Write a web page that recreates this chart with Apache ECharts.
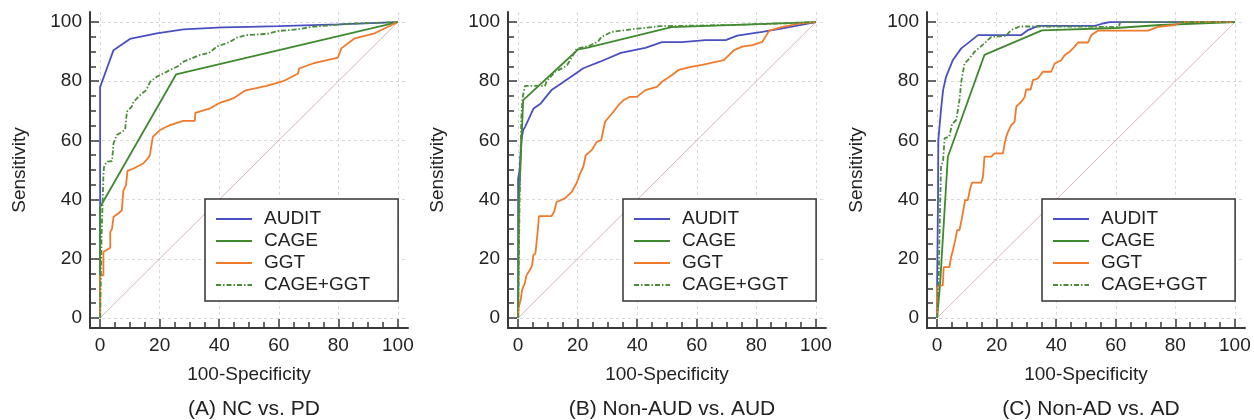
<!DOCTYPE html>
<html>
<head>
<meta charset="utf-8">
<script src="https://cdn.jsdelivr.net/npm/echarts@6/dist/echarts.min.js"></script>
<style>
  html, body { margin: 0; padding: 0; background: #fff; }
  #main { width: 1254px; height: 420px; }
</style>
</head>
<body>
<div id="main"></div>
<script>
// tick values shared by the three panels
var majorTicks = [0, 20, 40, 60, 80, 100];
var minorTicks = [0, 5, 10, 15, 20, 25, 30, 35, 40, 45, 50, 55, 60, 65, 70, 75, 80, 85, 90, 95, 100];
var diagonal = [[0, 0], [100, 100]];

var seriesNames = ['AUDIT', 'CAGE', 'GGT', 'CAGE+GGT'];
var captions = ['(A) NC vs. PD', '(B) Non-AUD vs. AUD', '(C) Non-AD vs. AD'];

// (A) NC vs. PD  -- [100-specificity, sensitivity]
var A_AUDIT = [[0, 0], [0, 78], [0.6, 78.4], [2.5, 85], [4.5, 90.5], [10, 94.3], [19, 96.2], [28, 97.5], [41, 98.2], [50, 98.4], [60, 98.6], [80, 99.2], [100, 100]];
var A_CAGE = [[0, 0], [0, 37.5], [25.5, 82.3], [100, 100]];
var A_GGT = [[0, 0], [0, 14.4], [1.1, 14.4], [1.1, 22.3], [3.4, 23.7], [3.4, 29], [4, 30.2], [4.5, 34.2], [6.1, 35.3], [7.3, 36.4], [7.8, 43], [8.7, 44.9], [9.2, 49.7], [11.2, 50.5], [14.5, 52.2], [16.5, 54.5], [16.8, 55.6], [17.7, 61.2], [20.1, 63.5], [23.5, 65.2], [27.9, 66.6], [31.8, 66.6], [32, 69.3], [36.9, 70.8], [40.2, 72.7], [44.7, 74.2], [48.6, 76.8], [55.9, 78.4], [61.5, 80], [66.5, 82.6], [66.8, 84.3], [71.5, 86], [79.9, 88], [81, 91.1], [85.5, 94.5], [92.2, 96.2], [100, 100]];
var A_COMBO = [[0, 0], [0.5, 28.5], [1.1, 28.5], [1.1, 48], [1.3, 51], [2.2, 52.8], [4, 53], [4.5, 59], [5.6, 61.8], [8.4, 63.6], [9, 69.7], [10.6, 71.4], [11.2, 73], [13.4, 75.3], [15.5, 77], [16.8, 79.8], [19, 81.5], [23.5, 83.8], [26, 85], [28, 86.6], [33.6, 88.9], [36.5, 89.5], [39.2, 91.7], [43.6, 93.3], [46, 94.8], [49.2, 95.6], [56, 96], [60, 97], [66, 97.5], [72, 98.5], [85, 99.5], [100, 100]];

// (B) Non-AUD vs. AUD
var B_AUDIT = [[0, 0], [0, 47], [0.5, 50], [1.1, 60], [1.7, 63.5], [2.3, 64.5], [5.2, 70.8], [7.6, 72.5], [11.2, 77], [14.6, 79.3], [21.9, 84.4], [27.5, 86.6], [34.5, 89.6], [42.7, 91.3], [48.3, 93.2], [55, 93.2], [62.9, 93.9], [69.7, 93.9], [73.6, 95.4], [82, 96.7], [88.8, 97.9], [100, 100]];
var B_CAGE = [[0, 0], [0.3, 40], [1.7, 73.6], [20.2, 90.8], [23, 91.3], [51.5, 98.3], [100, 100]];
var B_GGT = [[0, 0], [0.2, 3.7], [0.9, 6.2], [1.3, 9.4], [2.2, 11.6], [2.8, 14.4], [3.9, 16.1], [4.7, 17.8], [5.1, 21.2], [5.8, 21.8], [6.5, 28.5], [7, 34.4], [11.2, 34.4], [12.1, 35.9], [12.9, 39.2], [15.7, 40.4], [18, 42.6], [19.7, 45.7], [20.8, 48.8], [21.9, 51.1], [22.7, 55], [24.7, 56.7], [26.4, 59.5], [27.9, 60.1], [29.2, 66.3], [32, 69.7], [33.7, 71.9], [35.4, 73.6], [37.4, 74.7], [39.9, 74.7], [42.7, 77], [46.6, 78.1], [48.3, 79.8], [51.7, 82.1], [53.9, 83.8], [58.4, 84.9], [61.8, 85.5], [69.1, 87.1], [72.5, 90.5], [75.3, 91.7], [78.7, 92.2], [82, 93.3], [84.3, 97.1], [88.8, 98.4], [94.4, 99.5], [100, 100]];
var B_COMBO = [[0, 0], [0.5, 40], [1.1, 68], [1.5, 74.5], [2.3, 78.4], [9, 78.4], [9.6, 80], [12.4, 83.2], [15.7, 84.9], [16.5, 85.5], [19.7, 91], [24, 92], [26.9, 93.5], [28, 95], [31.4, 96.7], [41, 97.9], [47.7, 98.6], [60, 98.8], [75, 99.1], [90, 99.6], [100, 100]];

// (C) Non-AD vs. AD
var C_AUDIT = [[0, 0], [0, 12], [0.3, 40], [0.4, 60], [1.3, 70.3], [2, 77], [3, 81.5], [5.3, 87.2], [8.1, 91.1], [10.9, 93.3], [13.7, 95.6], [28.3, 95.6], [30.5, 97.3], [33.9, 98.7], [52.9, 98.7], [56, 99.6], [58, 100], [100, 100]];
var C_CAGE = [[0, 0], [1, 11.5], [3.6, 54.5], [15.9, 88.9], [35.2, 97.2], [60, 98], [75, 99], [100, 100]];
var C_GGT = [[0, 0], [0, 10], [0.4, 11], [1.9, 11], [2.2, 17.2], [4.1, 17.2], [4.7, 20.6], [5.3, 22.9], [6.1, 26.3], [6.7, 29.7], [7.5, 29.7], [8.3, 33.6], [8.9, 37], [9.4, 39.8], [10.3, 39.8], [11.1, 43.7], [11.7, 45.7], [14.8, 45.7], [15.4, 47.7], [15.9, 54.5], [18.2, 54.5], [19.3, 55.6], [22.1, 55.6], [22.6, 58.4], [23.2, 61.2], [23.8, 62.9], [24.9, 65.2], [26, 66.3], [26.6, 71.4], [28.3, 73.1], [29.4, 74.7], [29.9, 77.2], [31.4, 77.2], [32.2, 80.4], [33.9, 81], [35.5, 83.2], [38.3, 83.2], [39.5, 86], [41.7, 87.1], [42.8, 88.8], [44.5, 90], [46.2, 91.7], [47.3, 93.1], [50.7, 93.1], [51.8, 95.6], [54, 97.1], [61.9, 97.1], [70.9, 97.1], [74.2, 98.4], [79.8, 99], [82, 100], [100, 100]];
var C_COMBO = [[0, 0], [0.5, 12], [1, 38], [1.3, 51.1], [2, 53], [2.5, 60.7], [4.1, 61.3], [5, 65.5], [6.4, 66.9], [7.5, 73.6], [8.1, 79.8], [9.2, 86], [10.9, 87.7], [12.6, 90], [15.9, 92.8], [18.2, 95], [23, 95.3], [24.9, 97.3], [27.7, 98.5], [45, 98.5], [61, 98.3], [61.5, 100], [100, 100]];

var panelData = [
  [A_AUDIT, A_CAGE, A_GGT, A_COMBO],
  [B_AUDIT, B_CAGE, B_GGT, B_COMBO],
  [C_AUDIT, C_CAGE, C_GGT, C_COMBO]
];

var colors = ['#4a4fc2', '#3f8a2f', '#f07a2c', '#4a8c3a'];
var font = 'Liberation Sans, Arial, sans-serif';

// layout: axis-line position of each panel
var gridLeft = [90, 508, 927];
var axisMin = -3.4, axisMax = 103.4;

var grids = [], xAxes = [], yAxes = [], series = [], legends = [], titles = [];

gridLeft.forEach(function (left, p) {
  grids.push({ left: left, top: 12, width: 318, height: 316 });

  // main axes: line, labels, major ticks, grid lines
  xAxes.push({
    gridIndex: p, type: 'value', min: axisMin, max: axisMax,
    name: '100-Specificity', nameLocation: 'middle', nameGap: 37,
    nameTextStyle: { fontSize: 19, color: '#222', fontFamily: font },
    axisLine: { onZero: false, lineStyle: { color: '#383838', width: 2 } },
    axisTick: { inside: true, length: 9, customValues: majorTicks, lineStyle: { color: '#383838', width: 1.5 } },
    axisLabel: { customValues: majorTicks, margin: 8, fontSize: 19, color: '#222', fontFamily: font },
    splitLine: { show: true, lineStyle: { color: '#d9d9d9', type: [3, 3], width: 1 } }
  });
  yAxes.push({
    gridIndex: p, type: 'value', min: axisMin, max: axisMax,
    name: 'Sensitivity', nameLocation: 'middle', nameGap: 61,
    nameTextStyle: { fontSize: 19, color: '#222', fontFamily: font },
    axisLine: { onZero: false, lineStyle: { color: '#383838', width: 2 } },
    axisTick: { inside: true, length: 9, customValues: majorTicks, lineStyle: { color: '#383838', width: 1.5 } },
    axisLabel: { customValues: majorTicks, margin: 8, fontSize: 19, color: '#222', fontFamily: font },
    splitLine: { show: true, lineStyle: { color: '#d9d9d9', type: [3, 3], width: 1 } }
  });
  // helper axes for the short ticks
  xAxes.push({
    gridIndex: p, type: 'value', min: axisMin, max: axisMax, position: 'bottom',
    axisLine: { show: false, onZero: false },
    axisTick: { inside: true, length: 6, customValues: minorTicks, lineStyle: { color: '#383838', width: 1.5 } },
    axisLabel: { show: false }, splitLine: { show: false }
  });
  yAxes.push({
    gridIndex: p, type: 'value', min: axisMin, max: axisMax, position: 'left',
    axisLine: { show: false, onZero: false },
    axisTick: { inside: true, length: 6, customValues: minorTicks, lineStyle: { color: '#383838', width: 1.5 } },
    axisLabel: { show: false }, splitLine: { show: false }
  });

  series.push({
    type: 'line', xAxisIndex: p * 2, yAxisIndex: p * 2, data: diagonal,
    symbol: 'none', silent: true, lineStyle: { color: '#d9b6b6', width: 1 }, z: 1
  });
  panelData[p].forEach(function (d, i) {
    series.push({
      name: seriesNames[i], type: 'line', xAxisIndex: p * 2, yAxisIndex: p * 2,
      data: d, symbol: 'none', color: colors[i],
      lineStyle: { color: colors[i], width: 1.8, type: i === 3 ? [5, 2, 1.5, 2] : 'solid' },
      z: 2 + i
    });
  });

  var plotLeft = left + 10;
  legends.push({
    orient: 'vertical', left: left + 115, top: 199,
    data: seriesNames, itemWidth: 36, itemHeight: 14, itemGap: 0,
    padding: [9, 28, 5, 10],
    itemStyle: { opacity: 0 },
    backgroundColor: '#fff', borderColor: '#333', borderWidth: 1.5, borderRadius: 0,
    textStyle: { fontSize: 19, lineHeight: 22, color: '#222', fontFamily: font, padding: [0, 0, 0, 7] },
    selectedMode: false
  });

  titles.push({
    text: captions[p], left: plotLeft + 149, top: 394, textAlign: 'center',
    textStyle: { fontSize: 21, fontWeight: 'normal', color: '#222', fontFamily: font }
  });
});

var chart = echarts.init(document.getElementById('main'));
chart.setOption({
  animation: false,
  backgroundColor: '#fff',
  title: titles,
  legend: legends,
  grid: grids,
  xAxis: xAxes,
  yAxis: yAxes,
  series: series
});
</script>
</body>
</html>
